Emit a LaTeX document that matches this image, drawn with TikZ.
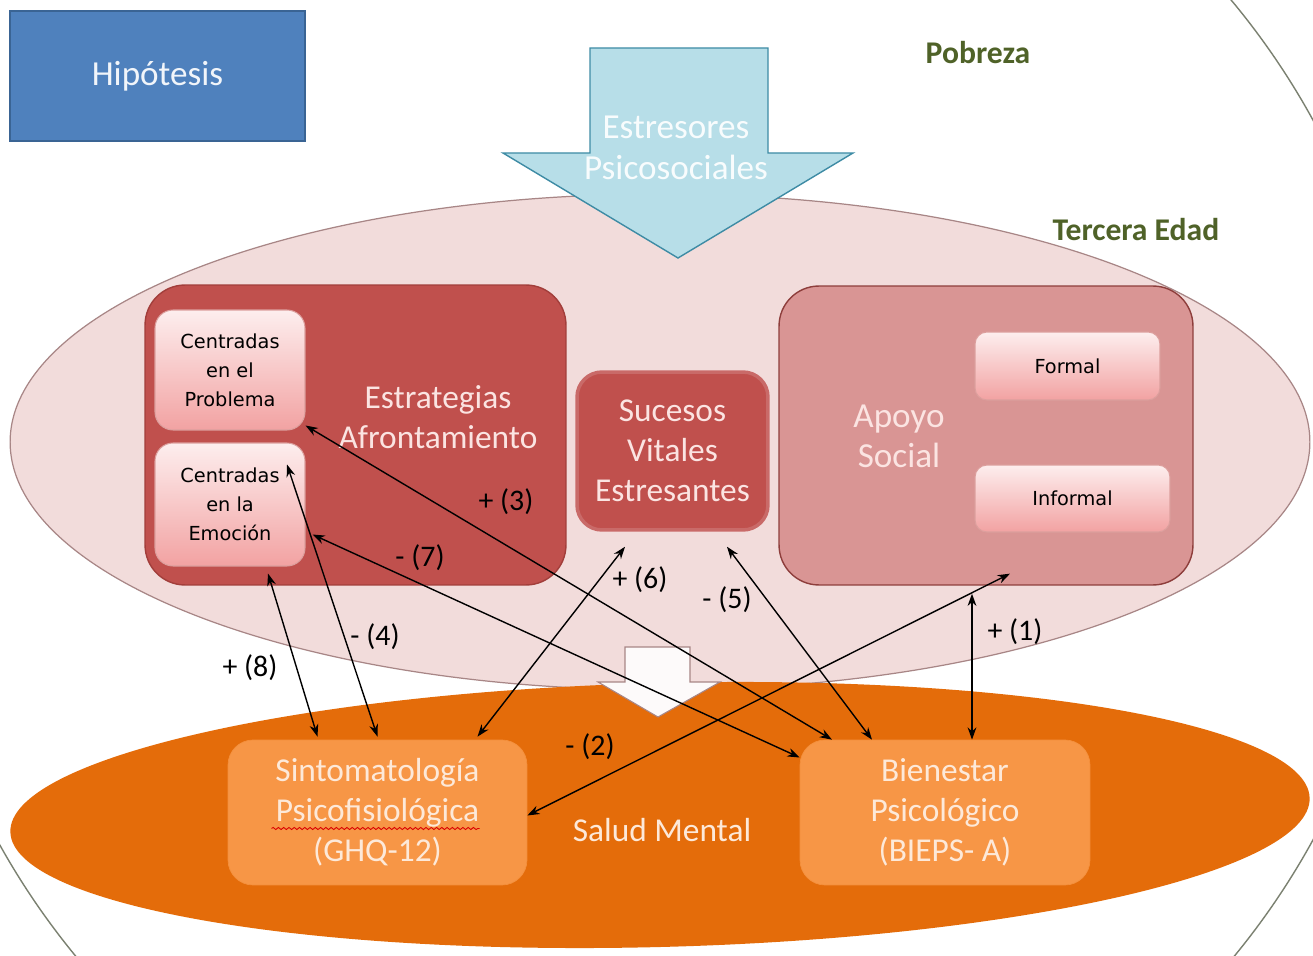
\documentclass[tikz,border=0pt]{standalone}
\usepackage{fontspec}
\setmainfont{Carlito}
\newfontfamily\cajafont{DejaVu Sans}
\usetikzlibrary{calc,arrows.meta,decorations.pathmorphing}

\definecolor{azulH}{HTML}{4F81BD}
\definecolor{azulHborde}{HTML}{3A6494}
\definecolor{celeste}{HTML}{B7DEE8}
\definecolor{celesteborde}{HTML}{3F8CA5}
\definecolor{rosa}{HTML}{F2DCDB}
\definecolor{rosaborde}{HTML}{A88686}
\definecolor{rojo}{HTML}{C0504D}
\definecolor{rojoborde}{HTML}{A23E3B}
\definecolor{rojoclaro}{HTML}{D99594}
\definecolor{rojoclaroborde}{HTML}{8E3E3C}
\definecolor{naranja}{HTML}{E46C0A}
\definecolor{naranjaclaro}{HTML}{F79646}
\definecolor{oliva}{HTML}{4F6228}
\definecolor{palido}{HTML}{FBE4E2}
\definecolor{crema}{HTML}{FDE9D9}
\definecolor{cajaarriba}{HTML}{FDEEEE}
\definecolor{cajaabajo}{HTML}{F2A2A2}

\begin{document}
\begin{tikzpicture}[x=0.02cm,y=-0.02cm,
    texto/.style={font=\fontsize{19}{22.8}\selectfont,align=center},
    titulo/.style={font=\bfseries\fontsize{18}{21}\selectfont,text=oliva},
    signo/.style={font=\fontsize{17}{20}\selectfont},
    contenedor/.style={rounded corners=0.8cm,line width=0.8pt,inner sep=0pt},
    caja/.style={rounded corners=0.36cm,draw=rojo!55,line width=0.6pt,
                 top color=cajaarriba,bottom color=cajaabajo,inner sep=0pt,
                 font=\cajafont\fontsize{11}{16.5}\selectfont,align=center},
    medida/.style={rounded corners=0.5cm,fill=naranjaclaro,draw=naranjaclaro!85!naranja,
                   inner sep=0pt,minimum width=5.9cm,minimum height=2.9cm,
                   texto,text=crema},
    flecha/.style={{Stealth[length=7pt,width=5pt]}-{Stealth[length=7pt,width=5pt]},
                   line width=0.8pt,black}]
    \useasboundingbox (0,0) rectangle (1313,956);
    \clip (0,0) rectangle (1313,956);
    \fill[white] (0,0) rectangle (1313,956); % fondo

    \begin{scope} % pobreza, sin el arco de arriba a la izquierda
      \clip (0,150) -- (320,150) -- (320,0) -- (1313,0) -- (1313,956) -- (0,956) -- cycle;
      \draw[black!55!oliva!60,line width=0.8pt] (655,480) circle[radius=15cm];
    \end{scope}
    \draw[fill=rosa,draw=rosaborde,line width=0.7pt] (660,442)
         ellipse[x radius=13cm,y radius=4.96cm]; % tercera edad
    \fill[naranja,rotate around={1.5:(660,815)}] (660,815)
         ellipse[x radius=13cm,y radius=2.64cm]; % salud mental
    % flecha blanca entre elipses
    \draw[fill=white!85!rosa,draw=rosaborde,line width=0.6pt] (625,647) -- (690,647)
         -- (690,682) -- (720,682) -- (658,717) -- (598,682) -- (625,682) -- cycle;
    % flecha estresores
    \draw[fill=celeste,draw=celesteborde,line width=0.8pt] (590,48) -- (768,48)
         -- (768,153) -- (853,153) -- (678,258) -- (503,153) -- (590,153) -- cycle;
    \node[texto,text=white!90!celeste,font=\fontsize{20}{23}\selectfont]
         (estresores) at (676,148) {Estresores\\Psicosociales};

    \node[fill=azulH,draw=azulHborde,line width=0.8pt,minimum width=5.9cm,
          minimum height=2.6cm,text=white!92!azulH,font=\fontsize{20}{24}\selectfont]
         (hipotesis) at (157.5,76) {Hipótesis};
    \node[titulo] (pobreza) at (978,53) {Pobreza};
    \node[titulo] (tercera) at (1136,230) {Tercera Edad};

    % estrategias de afrontamiento
    \node[contenedor,fill=rojo,draw=rojoborde,minimum width=8.42cm,
          minimum height=6cm] (estrategias) at (355.5,435) {};
    \node[texto,text=palido] (estrategiastxt) at (438,417) {Estrategias\\Afrontamiento};
    \node[caja,minimum width=3cm,minimum height=2.4cm] (prob) at (230,370)
         {Centradas\\en el\\Problema};
    \node[caja,minimum width=3cm,minimum height=2.46cm] (emoc) at (230,504.5)
         {Centradas\\en la\\Emoción};

    % sucesos vitales
    \node[rounded corners=0.5cm,fill=rojo,draw=rojo!85!white,line width=2pt,
          minimum width=3.82cm,minimum height=3.16cm,inner sep=0pt,texto,text=palido]
         (suc) at (672.5,451) {Sucesos\\Vitales\\Estresantes};

    % apoyo social
    \node[contenedor,fill=rojoclaro,draw=rojoclaroborde,minimum width=8.28cm,
          minimum height=5.98cm] (apoyo) at (986,435.5) {};
    \node[texto,text=palido,font=\fontsize{20}{22.8}\selectfont] (apoyotxt)
         at (899,436) {Apoyo\\Social};
    \node[caja,rounded corners=0.24cm,minimum width=3.7cm,minimum height=1.36cm]
         (formal) at (1067.5,366) {Formal};
    \node[caja,rounded corners=0.24cm,minimum width=3.9cm,minimum height=1.34cm]
         (informal) at (1072.5,498.5) {Informal};

    % salud mental
    \node[medida,minimum width=5.98cm] (sint) at (377.5,812.5)
         {Sintomatología\\Psicofisiológica\\(GHQ-12)};
    \node[medida,minimum width=5.8cm] (bien) at (945,812.5)
         {Bienestar\\Psicológico\\(BIEPS- A)};
    \node[texto,text=crema] (salud) at (662,830) {Salud Mental};
    \draw[red!85!black,line width=0.5pt,decorate,
          decoration={snake,amplitude=0.6pt,segment length=3pt}]
         ($(sint.center)+(-106,16)$) -- ++(208,0); % subrayado

    % relaciones
    \draw[flecha] ($(apoyo.south)+(-14,8)$) -- ($(bien.north)+(27,0)$); % (1)
    \draw[flecha] ($(apoyo.south)+(24,-12)$) -- ($(sint.east)+(0,3)$); % (2)
    \draw[flecha] ($(prob.south east)+(0,-5)$) -- ($(bien.north)+(-113,0)$); % (3)
    \draw[flecha] ($(emoc.north)+(57,22)$) -- ($(sint.north)+(0,-3)$); % (4)
    \draw[flecha] ($(suc.south)+(54.5,15)$) -- ($(bien.north)+(-73,0)$); % (5)
    \draw[flecha] ($(suc.south)+(-47.5,15)$) -- ($(sint.north)+(100,-3)$); % (6)
    \draw[flecha] ($(emoc.east)+(7,30)$) -- ($(bien.west)+(0,-55)$); % (7)
    \draw[flecha] ($(emoc.south)+(38,7)$) -- ($(sint.north)+(-60,-3)$); % (8)

    \node[signo] (r1) at (1015,632) {+ (1)};
    \node[signo] (r2) at (590,747) {- (2)};
    \node[signo] (r3) at (506,502) {+ (3)};
    \node[signo] (r4) at (375,637) {- (4)};
    \node[signo] (r5) at (727,600) {- (5)};
    \node[signo] (r6) at (640,580) {+ (6)};
    \node[signo] (r7) at (420,558) {- (7)};
    \node[signo] (r8) at (250,668) {+ (8)};
\end{tikzpicture}
\end{document}
